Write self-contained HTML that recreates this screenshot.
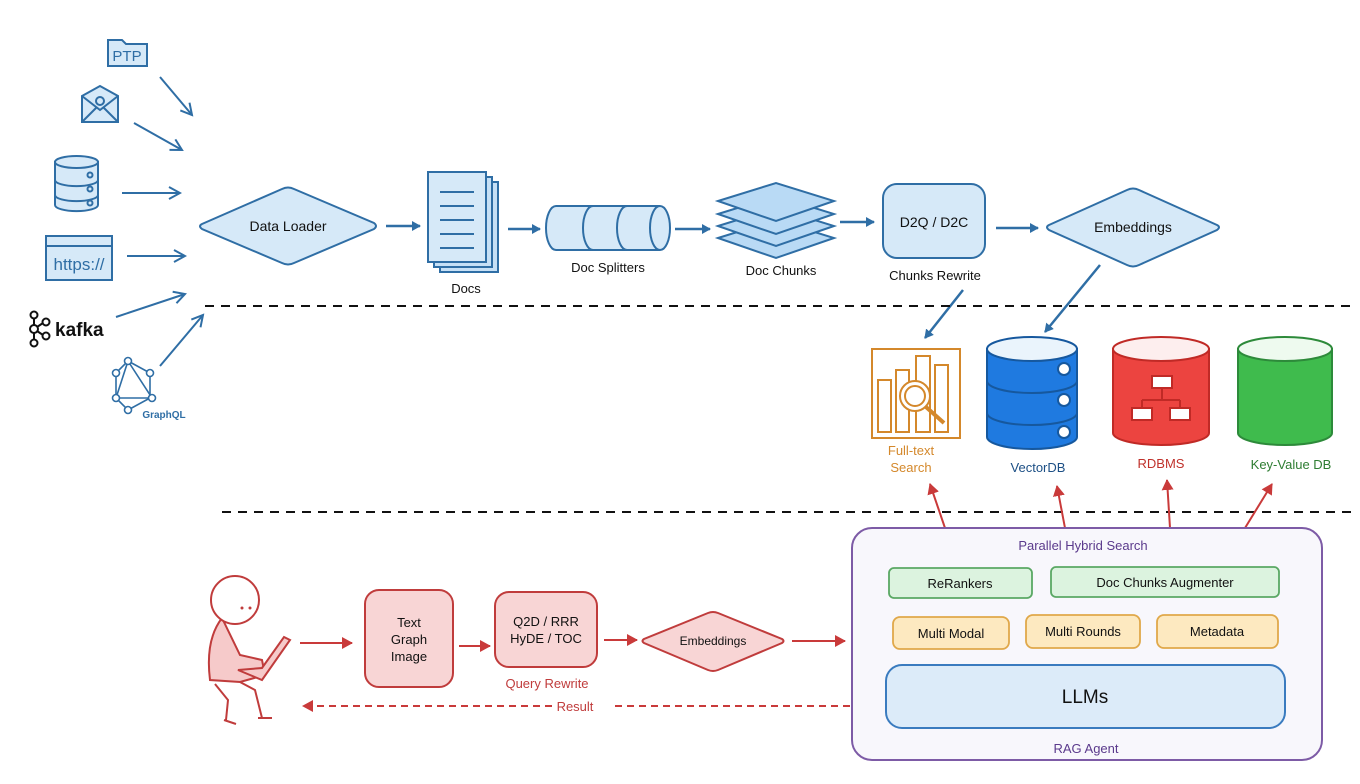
<!DOCTYPE html>
<html><head><meta charset="utf-8"><style>
html,body{margin:0;padding:0;background:#fff}
svg{display:block}
text{font-family:"Liberation Sans",sans-serif}
</style></head><body>
<svg width="1360" height="784" viewBox="0 0 1360 784" xmlns="http://www.w3.org/2000/svg">
<defs>
<marker id="ab" markerWidth="10" markerHeight="10" refX="8" refY="5" orient="auto" markerUnits="userSpaceOnUse"><path d="M0,0 L9,5 L0,10 Z" fill="#2f6ea5"/></marker>
<marker id="abo" markerWidth="14" markerHeight="14" refX="12" refY="7" orient="auto" markerUnits="userSpaceOnUse"><path d="M1,1 L12,7 L1,13" fill="none" stroke="#2f6ea5" stroke-width="2"/></marker>
<marker id="ar" markerWidth="12" markerHeight="12" refX="10" refY="6" orient="auto" markerUnits="userSpaceOnUse"><path d="M0,0 L11,6 L0,12 Z" fill="#c93a3a"/></marker>
</defs>
<g stroke="#2f6ea5" stroke-width="2" fill="#d6e9f8">
<!-- PTP folder -->
<path d="M108,66 V40 H122 L126,44 H147 V66 Z"/>
<text x="127" y="61" font-size="15" fill="#2f6ea5" stroke="none" text-anchor="middle">PTP</text>
<!-- envelope -->
<path d="M82,96 L100,86 L118,96 V122 H82 Z"/>
<path d="M82,96 L100,110 L118,96 M82,122 L96,108 M118,122 L104,108" fill="none"/>
<circle cx="100" cy="101" r="4" fill="none"/>
<!-- db -->
<path d="M55,162 V205 A21,6 0 0 0 98,205 V162 Z"/>
<ellipse cx="76.5" cy="162" rx="21.5" ry="6"/>
<path d="M55,180 A21,6 0 0 0 98,180 M55,195 A21,6 0 0 0 98,195" fill="none"/>
<circle cx="90" cy="175" r="2.5" fill="none"/><circle cx="90" cy="189" r="2.5" fill="none"/><circle cx="90" cy="203" r="2.5" fill="none"/>
<!-- browser -->
<rect x="46" y="236" width="66" height="44"/>
<line x1="46" y1="246" x2="112" y2="246"/>
<text x="79" y="270" font-size="17" fill="#2f6ea5" stroke="none" text-anchor="middle">https://</text>
<!-- graphql -->
<g fill="none" stroke-width="1.6">
<polygon points="128,361 150,373 150,398 128,410 116,398 116,373"/>
<polygon points="128,361 152,398 116,398"/>
</g>
<g fill="#fff" stroke-width="1.6"><circle cx="128" cy="361" r="3.5"/><circle cx="150" cy="373" r="3.5"/><circle cx="152" cy="398" r="3.5"/><circle cx="128" cy="410" r="3.5"/><circle cx="116" cy="398" r="3.5"/><circle cx="116" cy="373" r="3.5"/></g>
</g>
<text x="164" y="418" font-size="10" fill="#2f6ea5" text-anchor="middle" font-weight="bold">GraphQL</text>
<!-- kafka -->
<g stroke="#111" stroke-width="2" fill="none">
<circle cx="34" cy="315" r="3.5"/><circle cx="34" cy="329" r="4"/><circle cx="34" cy="343" r="3.5"/><circle cx="46" cy="322" r="3.5"/><circle cx="46" cy="336" r="3.5"/>
<path d="M34,318 V325 M34,333 V340 M37,327 L43,323 M37,331 L43,335"/>
</g>
<text x="55" y="336" font-size="19" font-weight="bold" fill="#111">kafka</text>
<!-- input arrows -->
<g stroke="#2f6ea5" stroke-width="2" marker-end="url(#abo)">
<line x1="160" y1="77" x2="192" y2="115"/>
<line x1="134" y1="123" x2="182" y2="150"/>
<line x1="122" y1="193" x2="180" y2="193"/>
<line x1="127" y1="256" x2="185" y2="256"/>
<line x1="116" y1="317" x2="185" y2="294"/>
<line x1="160" y1="366" x2="203" y2="315"/>
</g>
<!-- Data loader -->
<path d="M202,224 Q198,226 202,229 L282,263 Q288,266 294,263 L374,229 Q378,226 374,223 L294,189 Q288,186 282,189 Z" fill="#d6e9f8" stroke="#2f6ea5" stroke-width="2"/>
<text x="288" y="231" font-size="14" text-anchor="middle" fill="#111">Data Loader</text>
<g stroke="#2f6ea5" stroke-width="2.5" marker-end="url(#ab)">
<line x1="386" y1="226" x2="420" y2="226"/>
<line x1="508" y1="229" x2="540" y2="229"/>
<line x1="675" y1="229" x2="710" y2="229"/>
<line x1="840" y1="222" x2="874" y2="222"/>
<line x1="996" y1="228" x2="1038" y2="228"/>
<line x1="963" y1="290" x2="925" y2="338"/>
<line x1="1100" y1="265" x2="1045" y2="332"/>
</g>
<!-- docs -->
<g stroke="#2f6ea5" stroke-width="2" fill="#c6e0f6">
<rect x="440" y="182" width="58" height="90"/>
<rect x="434" y="177" width="58" height="90"/>
<rect x="428" y="172" width="58" height="90" fill="#d6e9f8"/>
<path d="M440,192H474M440,206H474M440,220H474M440,234H474M440,248H474" fill="none"/>
</g>
<text x="466" y="293" font-size="13" text-anchor="middle" fill="#111">Docs</text>
<!-- splitters -->
<g stroke="#2f6ea5" stroke-width="2" fill="#d6e9f8">
<path d="M556,206 H660 A10,22 0 0 1 660,250 H556 A10,22 0 0 1 556,206 Z"/>
<path d="M593,206 A10,22 0 0 0 593,250 M627,206 A10,22 0 0 0 627,250 M660,206 A10,22 0 0 0 660,250" fill="none"/>
</g>
<text x="608" y="272" font-size="13" text-anchor="middle" fill="#111">Doc Splitters</text>
<!-- chunks -->
<g stroke="#2f6ea5" stroke-width="2" fill="#b9daf5">
<polygon points="718,238 776,220 834,238 776,258"/>
<polygon points="718,226 776,208 834,226 776,246"/>
<polygon points="718,214 776,196 834,214 776,234"/>
<polygon points="718,201 776,183 834,201 776,221"/>
</g>
<text x="781" y="275" font-size="13" text-anchor="middle" fill="#111">Doc Chunks</text>
<!-- D2Q -->
<rect x="883" y="184" width="102" height="74" rx="14" fill="#d6e9f8" stroke="#2f6ea5" stroke-width="2"/>
<text x="934" y="227" font-size="14" text-anchor="middle" fill="#111">D2Q / D2C</text>
<text x="935" y="280" font-size="13" text-anchor="middle" fill="#111">Chunks Rewrite</text>
<!-- Embeddings top -->
<path d="M1049,225 Q1045,227 1049,230 L1127,265 Q1133,268 1139,265 L1217,230 Q1221,227 1217,225 L1139,190 Q1133,187 1127,190 Z" fill="#d6e9f8" stroke="#2f6ea5" stroke-width="2"/>
<text x="1133" y="232" font-size="14" text-anchor="middle" fill="#111">Embeddings</text>
<!-- dashed -->
<line x1="205" y1="306" x2="1352" y2="306" stroke="#111" stroke-width="2" stroke-dasharray="9,7"/>
<line x1="222" y1="512" x2="1352" y2="512" stroke="#111" stroke-width="2" stroke-dasharray="9,7"/>
<!-- full text -->
<g stroke="#d4882b" stroke-width="2" fill="none">
<rect x="872" y="349" width="88" height="89"/>
<rect x="878" y="380" width="13" height="52"/><rect x="896" y="370" width="13" height="62"/><rect x="916" y="356" width="14" height="76"/><rect x="935" y="365" width="13" height="67"/>
<circle cx="915" cy="396" r="15" fill="#fff"/><circle cx="915" cy="396" r="10"/>
<line x1="926" y1="407" x2="944" y2="423" stroke-width="4"/>
</g>
<text x="911" y="455" font-size="13" text-anchor="middle" fill="#d4882b">Full-text</text>
<text x="911" y="472" font-size="13" text-anchor="middle" fill="#d4882b">Search</text>
<!-- vectordb -->
<g stroke="#16589e" stroke-width="2">
<path d="M987,349 V437 A45,12 0 0 0 1077,437 V349 Z" fill="#1f7ae0"/>
<ellipse cx="1032" cy="349" rx="45" ry="12" fill="#eaf4fc"/>
<path d="M987,381 A45,12 0 0 0 1077,381 M987,413 A45,12 0 0 0 1077,413" fill="none"/>
<circle cx="1064" cy="369" r="6" fill="#fff"/><circle cx="1064" cy="400" r="6" fill="#fff"/><circle cx="1064" cy="432" r="6" fill="#fff"/>
</g>
<text x="1038" y="472" font-size="13" text-anchor="middle" fill="#1c4f85">VectorDB</text>
<!-- rdbms -->
<g stroke="#c02a26" stroke-width="2">
<path d="M1113,349 V433 A48,12 0 0 0 1209,433 V349 Z" fill="#ec4440"/>
<ellipse cx="1161" cy="349" rx="48" ry="12" fill="#fdeeee"/>
<g fill="#fff"><rect x="1152" y="376" width="20" height="12"/><rect x="1132" y="408" width="20" height="12"/><rect x="1170" y="408" width="20" height="12"/></g>
<path d="M1162,388 V400 M1142,400 H1180 M1142,400 V408 M1180,400 V408" fill="none"/>
</g>
<text x="1161" y="468" font-size="13" text-anchor="middle" fill="#c0312b">RDBMS</text>
<!-- kv -->
<g stroke="#2d8a3a" stroke-width="2">
<path d="M1238,349 V433 A47,12 0 0 0 1332,433 V349 Z" fill="#3fbb4d"/>
<ellipse cx="1285" cy="349" rx="47" ry="12" fill="#eefaef"/>
</g>
<text x="1291" y="469" font-size="13" text-anchor="middle" fill="#2e7d32">Key-Value DB</text>
<!-- red up arrows -->
<g stroke="#c93a3a" stroke-width="2" marker-end="url(#ar)">
<line x1="945" y1="528" x2="930" y2="484"/>
<line x1="1065" y1="528" x2="1057" y2="486"/>
<line x1="1170" y1="528" x2="1167" y2="480"/>
<line x1="1245" y1="528" x2="1272" y2="484"/>
</g>
<!-- RAG -->
<rect x="852" y="528" width="470" height="232" rx="20" fill="#f8f7fc" stroke="#7d5ba6" stroke-width="2"/>
<text x="1083" y="550" font-size="13" text-anchor="middle" fill="#5b3a8c">Parallel Hybrid Search</text>
<g stroke="#5aa864" stroke-width="1.8" fill="#dcf3df">
<rect x="889" y="568" width="143" height="30" rx="5"/>
<rect x="1051" y="567" width="228" height="30" rx="5"/>
</g>
<text x="960" y="588" font-size="13" text-anchor="middle" fill="#111">ReRankers</text>
<text x="1165" y="587" font-size="13" text-anchor="middle" fill="#111">Doc Chunks Augmenter</text>
<g stroke="#e0a84a" stroke-width="1.8" fill="#fde9c0">
<rect x="893" y="617" width="116" height="32" rx="7"/>
<rect x="1026" y="615" width="114" height="33" rx="7"/>
<rect x="1157" y="615" width="121" height="33" rx="7"/>
</g>
<text x="951" y="638" font-size="13" text-anchor="middle" fill="#111">Multi Modal</text>
<text x="1083" y="636" font-size="13" text-anchor="middle" fill="#111">Multi Rounds</text>
<text x="1217" y="636" font-size="13" text-anchor="middle" fill="#111">Metadata</text>
<rect x="886" y="665" width="399" height="63" rx="16" fill="#dcebf9" stroke="#3a7bbf" stroke-width="2"/>
<text x="1085" y="703" font-size="19" text-anchor="middle" fill="#111">LLMs</text>
<text x="1086" y="753" font-size="13" text-anchor="middle" fill="#5b3a8c">RAG Agent</text>
<!-- person -->
<g stroke="#c03c3c" stroke-width="2" fill="#f6caca">
<path d="M222,618 Q205,640 210,680 L240,682 L265,675 L262,660 L240,655 Z"/>
<path d="M238,670 L262,680 L290,640 L284,637 L262,668 Z"/>
<circle cx="235" cy="600" r="24" fill="#fff"/>
<path d="M240,682 L255,690 L262,718 M215,684 L228,700 L226,720" fill="none"/>
<path d="M258,718 L272,718 M224,720 L236,724" fill="none"/>
</g>
<circle cx="242" cy="608" r="1.5" fill="#c03c3c"/><circle cx="250" cy="608" r="1.5" fill="#c03c3c"/>
<g stroke="#c93a3a" stroke-width="2" marker-end="url(#ar)">
<line x1="300" y1="643" x2="352" y2="643"/>
<line x1="459" y1="646" x2="490" y2="646"/>
<line x1="604" y1="640" x2="637" y2="640"/>
<line x1="792" y1="641" x2="845" y2="641"/>
</g>
<rect x="365" y="590" width="88" height="97" rx="14" fill="#f8d5d5" stroke="#c03c3c" stroke-width="2"/>
<text x="409" y="627" font-size="13" text-anchor="middle" fill="#111">Text</text>
<text x="409" y="644" font-size="13" text-anchor="middle" fill="#111">Graph</text>
<text x="409" y="661" font-size="13" text-anchor="middle" fill="#111">Image</text>
<rect x="495" y="592" width="102" height="75" rx="14" fill="#f8d5d5" stroke="#c03c3c" stroke-width="2"/>
<text x="546" y="626" font-size="13" text-anchor="middle" fill="#111">Q2D / RRR</text>
<text x="546" y="643" font-size="13" text-anchor="middle" fill="#111">HyDE / TOC</text>
<text x="547" y="688" font-size="13" text-anchor="middle" fill="#c03c3c">Query Rewrite</text>
<path d="M644,639 Q641,641 644,643 L708,670 Q713,672 718,670 L782,643 Q785,641 782,639 L718,613 Q713,611 708,613 Z" fill="#f8d5d5" stroke="#c03c3c" stroke-width="2"/>
<text x="713" y="645" font-size="12" text-anchor="middle" fill="#111">Embeddings</text>
<line x1="850" y1="706" x2="612" y2="706" stroke="#c93a3a" stroke-width="2" stroke-dasharray="7,5"/>
<line x1="552" y1="706" x2="303" y2="706" stroke="#c93a3a" stroke-width="2" stroke-dasharray="7,5" marker-end="url(#ar)"/>
<text x="575" y="711" font-size="13" text-anchor="middle" fill="#c03c3c">Result</text>
</svg>
</body></html>
